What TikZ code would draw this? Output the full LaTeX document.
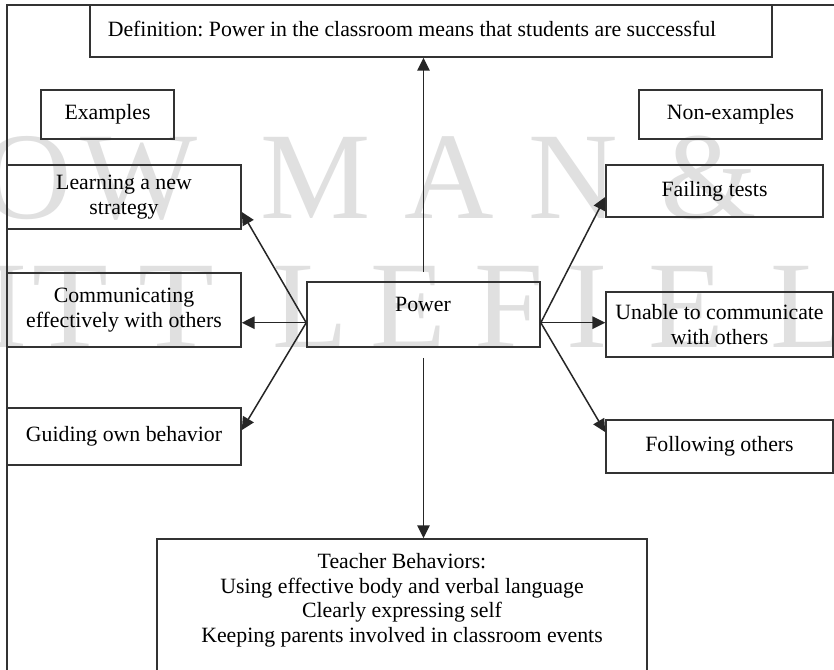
\documentclass[tikz,border=0pt]{standalone}
\usepackage{fontspec}
\setmainfont{Liberation Serif}
\usetikzlibrary{arrows.meta,calc}
\frenchspacing

% place a rectangle by its corners (x1,y1,x2,y2 in pixel units)
\newcommand\mkbox[6]{%
  \node[box,minimum width={(#4-#2)*0.5pt},minimum height={(#5-#3)*0.5pt}]
    (#1) at ({(#2+#4)/2},{(#3+#5)/2}) {#6};}

\tikzset{
  box/.style={draw=black!80,line width=0.8pt,inner sep=0pt,align=center,
    font=\fontsize{10.9}{12.3}\selectfont},
  txt/.style={inner sep=0pt,align=center,font=\fontsize{10.9}{12.3}\selectfont},
  arr/.style={draw=black!85,line width=0.75pt,-{Triangle[length=6.4pt,width=6.2pt]}},
  wm/.style={inner sep=0pt,anchor=base west,text=black!12,font=\fontsize{62}{62}\selectfont},
  frame/.style={draw=black!80,line width=0.8pt}
}

\begin{document}
\begin{tikzpicture}[x=0.5pt,y=-0.5pt]
\clip (0,0) rectangle (834,669);
\fill[white] (0,0) rectangle (834,669);

% publisher mark in the background
\node[wm] (w1) at (-18,218) {O};
\node[wm] (w2) at (80,218) {W};
\node[wm] (w3) at (260,218) {M};
\node[wm] (w4) at (404,218) {A};
\node[wm] (w5) at (528,218) {N};
\node[wm] (w6) at (660,218) {\&};
\node[wm] (v1) at (-14,347) {I};
\node[wm] (v2) at (32,347) {T};
\node[wm] (v3) at (138,347) {T};
\node[wm] (v4) at (272,347) {L};
\node[wm] (v5) at (370,347) {E};
\node[wm] (v6) at (474,347) {F};
\node[wm] (v7) at (566,347) {I};
\node[wm] (v8) at (648,347) {E};
\node[wm] (v9) at (770,347) {L};

% outer frame
\coordinate (fb) at (7,680);
\coordinate (fc) at (7,5);
\coordinate (fr) at (840,5);
\draw[frame] (fb) -- (fc) -- (fr);

% boxes
\mkbox{def}{90}{5}{772}{57}{}
\node[txt] (defT) at (412,29) {Definition: Power in the classroom means that students are successful};
\mkbox{ex}{41}{90}{174}{139}{Examples}
\mkbox{nonex}{639}{90}{822}{139}{Non-examples}
\mkbox{learn}{7}{165}{241}{229}{Learning a new\\strategy}
\mkbox{comm}{7}{273}{241}{347}{Communicating\\effectively with others}
\mkbox{guide}{7}{408}{241}{465}{Guiding own behavior}
\mkbox{power}{307}{282}{540}{347}{}
\node[txt] (powerT) at (423,304) {Power};
\mkbox{fail}{606}{165}{823}{217}{Failing tests}
\mkbox{unable}{606}{292}{833}{357}{Unable to communicate\\with others}
\mkbox{follow}{606}{420}{833}{473}{Following others}
\mkbox{teach}{157}{539}{647}{720}{}
\node[txt,anchor=north] (teachT) at (402,553)
  {Teacher Behaviors:\\Using effective body and verbal language\\Clearly expressing self\\Keeping parents involved in classroom events};

% connectors
\coordinate (pl) at ([yshift=-4.1pt]power.west);
\coordinate (pr) at ([yshift=-4.1pt]power.east);
\draw[arr] ([yshift=4.5pt]power.north) -- (power.north |- def.south);
\draw[arr] ([yshift=-5pt]power.south) -- (power.south |- teach.north);
\draw[arr] (pl) -- (pl -| comm.east);
\draw[arr] (pl) -- ([yshift=-7.5pt]learn.east);
\draw[arr] (pl) -- ([yshift=3.2pt]guide.east);
\draw[arr] (pr) -- (pr -| unable.west);
\draw[arr] (pr) -- ([yshift=-3pt]fail.west);
\draw[arr] (pr) -- ([yshift=7.2pt]follow.west);
\end{tikzpicture}
\end{document}
